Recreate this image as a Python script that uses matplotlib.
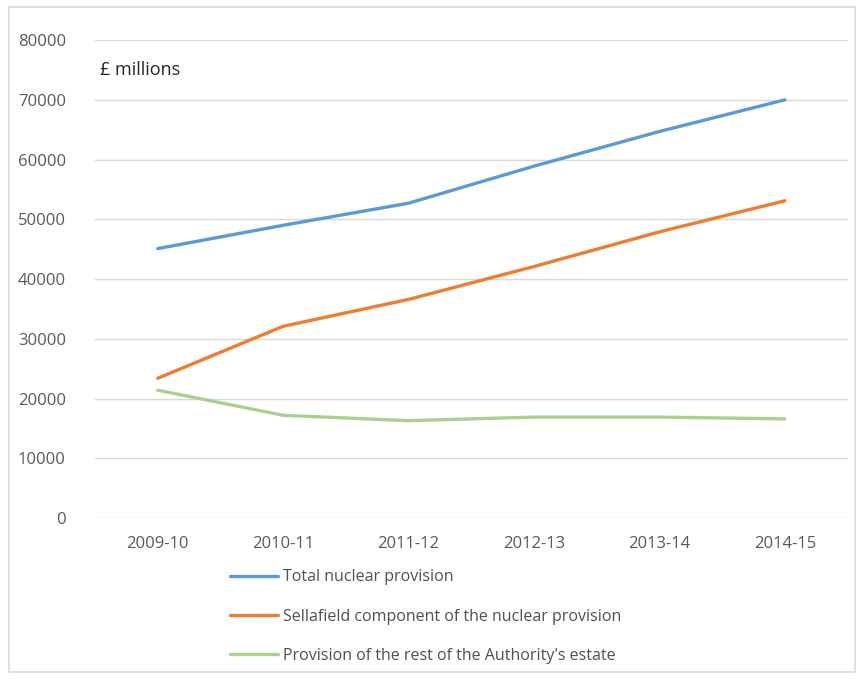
import matplotlib
matplotlib.use("Agg")
import matplotlib.pyplot as plt
from matplotlib.patches import Rectangle

years = ["2009-10", "2010-11", "2011-12", "2012-13", "2013-14", "2014-15"]
total = [45100, 49000, 52700, 58900, 64700, 70000]
sellafield = [23400, 32100, 36600, 42100, 47900, 53100]
rest = [21400, 17200, 16300, 16900, 16900, 16600]

series_names = ["Total nuclear provision",
                "Sellafield component of the nuclear provision",
                "Provision of the rest of the Authority's estate"]
colors = ["#5B9BD5", "#ED7D31", "#A9D18E"]

plt.rcParams['font.family'] = ['Open Sans', 'DejaVu Sans']

fig = plt.figure(figsize=(8.64, 6.79), dpi=100)
fig.patches.append(Rectangle((0.010, 0.010), 0.980, 0.980, transform=fig.transFigure,
                             fill=False, edgecolor="#D9D9D9", linewidth=1.2))
ax = fig.add_axes([0.110, 0.237, 0.871, 0.704])

x = list(range(len(years)))
handles = []
for vals, name, c in zip([total, sellafield, rest], series_names, colors):
    h, = ax.plot(x, vals, color=c, linewidth=2.4, label=name, solid_capstyle='round')
    handles.append(h)

ax.set_xlim(-0.5, len(years) - 0.5)
ax.set_ylim(0, 80000)
ax.set_yticks(range(0, 80001, 10000))
ax.set_yticklabels([str(v) for v in range(0, 80001, 10000)])
ax.set_xticks(x)
ax.set_xticklabels(years)
ax.grid(axis='y', color="#D9D9D9", linewidth=1)
ax.set_axisbelow(True)
for s in ax.spines.values():
    s.set_visible(False)
ax.tick_params(axis='both', length=0, colors="#595959", labelsize=12)
ax.tick_params(axis='y', pad=21)
ax.tick_params(axis='x', pad=13)

fig.text(100 / 864, 1 - 70 / 679, "£ millions", fontsize=13, color="#262626",
         ha='left', va='center')

fig.legend(handles=handles, loc='upper left', bbox_to_anchor=(224 / 864, 1 - 563 / 679),
           frameon=False, fontsize=11.5, labelcolor="#505050", handlelength=3.0,
           handletextpad=0.3, labelspacing=1.45, borderaxespad=0)

fig.savefig("out.png", dpi=100)
